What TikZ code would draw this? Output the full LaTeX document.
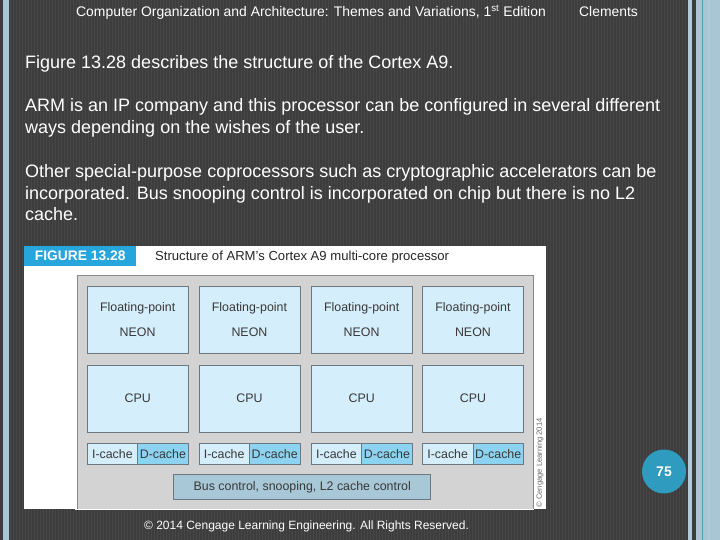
\documentclass[tikz,border=0pt]{standalone}
\usepackage{fontspec}
\setmainfont{Liberation Sans}
\definecolor{bgdark}{HTML}{3D3D3D}
\definecolor{bgstripe}{HTML}{474747}
\definecolor{edgeblue}{HTML}{A8C6D3}
\definecolor{edgeblue2}{HTML}{B2CAD6}
\definecolor{edgeteal}{HTML}{4F9AB0}
\definecolor{figblue}{HTML}{27A5DD}
\definecolor{cellfill}{HTML}{D5EEFB}
\definecolor{dcachefill}{HTML}{8BD3F1}
\definecolor{busfill}{HTML}{A8C7D7}
\definecolor{chipfill}{HTML}{D3D3D3}
\definecolor{chipedge}{HTML}{8A8A8A}
\definecolor{celledge}{HTML}{6C7780}
\definecolor{celltext}{HTML}{383838}
\definecolor{pageblue}{HTML}{2E9BBF}
\tikzset{
  bodyline/.style={anchor=base west, inner sep=0pt, text=white, font=\fontsize{18}{21}\selectfont},
  hdrline/.style={anchor=base west, inner sep=0pt, text=white, font=\fontsize{13.9}{16}\selectfont},
  cellbox/.style={draw=celledge, line width=0.9pt, fill=cellfill, anchor=north west, inner sep=0pt,
    text=celltext, font=\fontsize{12.4}{25}\selectfont, align=center},
  bigcell/.style={cellbox, minimum width=101pt, minimum height=67pt},
  cachecell/.style={cellbox, minimum width=50.5pt, minimum height=21.3pt},
}
\begin{document}
\begin{tikzpicture}[x=1pt,y=-1pt]
\useasboundingbox (0,0) rectangle (720,540);
% background
\fill[bgdark] (0,0) rectangle (720,540);
\foreach \i in {1,4,...,718} \draw[bgstripe, line width=1pt] (\i,0) -- (\i,540);
\fill[edgeblue] (2.7,0) rectangle (8.7,540);
\fill[bgdark] (0,0) rectangle (2.7,540);
\fill[edgeblue2] (687.7,0) rectangle (691.7,540);
\fill[bgdark] (691.7,0) rectangle (695.7,540);
\fill[edgeblue] (695.7,0) rectangle (720,540);
\fill[edgeteal] (702.3,0) rectangle (703.3,540);
\fill[edgeblue2] (708,0) rectangle (710,540);
% header
\node[hdrline] (hdr) at (76,17)
  {Computer Organization and Architecture: Themes and Variations, 1\textsuperscript{st} Edition};
\node[hdrline] (auth) at (579,17) {Clements};
% body text
\node[bodyline] (l1) at (25,69) {Figure 13.28 describes the structure of the Cortex A9.};
\node[bodyline] (l2) at (25,111.5) {ARM is an IP company and this processor can be configured in several different};
\node[bodyline] (l3) at (25,134) {ways depending on the wishes of the user.};
\node[bodyline] (l4) at (25,177.5) {Other special-purpose coprocessors such as cryptographic accelerators can be};
\node[bodyline] (l5) at (25,199.5) {incorporated. Bus snooping control is incorporated on chip but there is no L2};
\node[bodyline] (l6) at (25,221) {cache.};
% figure
\fill[white] (24,246) rectangle (545.5,508.5);
\node[fill=figblue, anchor=north west, minimum width=112pt, minimum height=19.5pt, inner sep=0pt,
  text=white, font=\bfseries\fontsize{13.8}{16}\selectfont] (figlab) at (24,246) {FIGURE 13.28};
\node[anchor=base west, inner sep=0pt, text=black!85, font=\fontsize{13.1}{15}\selectfont] (figtitle) at (155,260)
  {Structure of ARM's Cortex A9 multi-core processor};
\node[draw=chipedge, fill=chipfill, line width=0.9pt, anchor=north west, inner sep=0pt,
  minimum width=456pt, minimum height=233.5pt] (chip) at (76.5,275) {};
\fill[white] (75,508.5) rectangle (534,510);
\node[rotate=90, inner sep=0pt, text=black!60, font=\fontsize{7.6}{8}\selectfont] (copy) at (540,463) {\textcopyright{} Cengage Learning 2014};
\foreach \c/\x in {1/86.7,2/198.5,3/310.7,4/422} {
  \node[bigcell] (neon\c) at (\x,285.7) {Floating-point\\NEON};
  \node[bigcell] (cpu\c) at (\x,364.7) {CPU};
  \node[cachecell] (ic\c) at (\x,442.7) {I-cache};
  \node[cachecell, fill=dcachefill] (dc\c) at (\x+50.5,442.7) {D-cache};
}
\node[draw=celledge, line width=0.9pt, fill=busfill, anchor=north west, inner sep=0pt,
  minimum width=257pt, minimum height=25.3pt, text=celltext, font=\fontsize{12.4}{15}\selectfont] (bus) at (173.3,474)
  {Bus control, snooping, L2 cache control};
% page number
\node[circle, fill=pageblue, minimum size=44pt, inner sep=0pt, text=white, font=\bfseries\fontsize{14}{16}\selectfont] (page) at (664,471.5) {75};
% footer
\node[anchor=base, inner sep=0pt, text=white, font=\fontsize{12}{14}\selectfont] (foot) at (306.5,529.5)
  {\textcopyright{} 2014 Cengage Learning Engineering. All Rights Reserved.};
\end{tikzpicture}
\end{document}
